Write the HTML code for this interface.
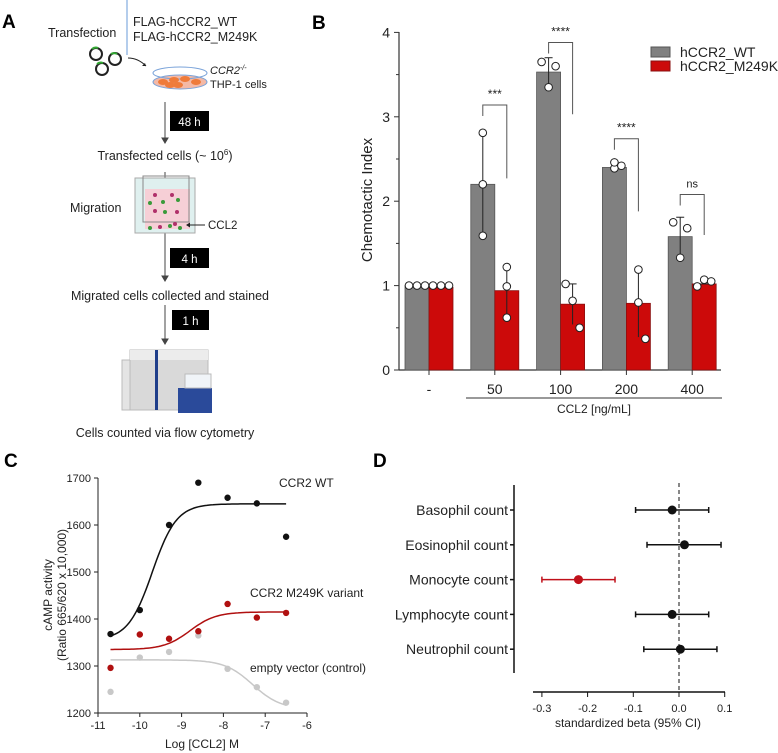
<!DOCTYPE html>
<html><head><meta charset="utf-8"><style>
body{margin:0;background:#fff}
svg{display:block;font-family:"Liberation Sans",Arial,sans-serif}
</style></head><body>
<svg id="fig" width="778" height="753" viewBox="0 0 778 753" xmlns="http://www.w3.org/2000/svg">
<!-- Panel A -->
<g>
<text x="2" y="28" font-size="19" font-weight="bold">A</text>
<text x="48" y="37" font-size="12.5" fill="#222">Transfection</text>
<line x1="127" y1="0" x2="127" y2="55" stroke="#6a9bd8" stroke-width="1"/>
<text x="133" y="26" font-size="12.5" fill="#222">FLAG-hCCR2_WT</text>
<text x="133" y="41" font-size="12.5" fill="#222">FLAG-hCCR2_M249K</text>
<g fill="none" stroke="#222" stroke-width="2">
<circle cx="96" cy="54" r="6"/><circle cx="115" cy="59" r="6"/><circle cx="102" cy="69" r="6"/>
</g>
<path d="M92 49 a6 6 0 0 1 6 -1 M111 54 a6 6 0 0 1 6 0 M97 64 a6 6 0 0 1 6 -1" stroke="#3a3" stroke-width="2" fill="none"/>
<path d="M128 58 Q138 58 146 66" stroke="#222" fill="none"/><path d="M146 66 l-4 0 l3 -3z" fill="#222"/>
<g>
<ellipse cx="180" cy="82" rx="27" ry="7" fill="#f4b9a6" stroke="#7aa3d9"/>
<ellipse cx="180" cy="73" rx="27" ry="6" fill="none" stroke="#7aa3d9"/>
<g fill="#ef7b3a"><ellipse cx="163" cy="82" rx="5" ry="3"/><ellipse cx="174" cy="80" rx="5" ry="3"/><ellipse cx="185" cy="79" rx="5" ry="3"/><ellipse cx="196" cy="82" rx="5" ry="3"/><ellipse cx="178" cy="85" rx="5" ry="3"/><ellipse cx="170" cy="85" rx="5" ry="3"/></g>
</g>
<text x="210" y="74" font-size="11" font-style="italic" fill="#222">CCR2<tspan font-size="7" dy="-4">-/-</tspan></text>
<text x="210" y="88" font-size="11" fill="#222">THP-1 cells</text>
<g stroke="#444" fill="#444">
<line x1="165" y1="102" x2="165" y2="140"/><path d="M162 138 l3 5 l3 -5z"/>
<line x1="165" y1="172" x2="165" y2="186"/><path d="M162 184 l3 5 l3 -5z"/>
<line x1="165" y1="233" x2="165" y2="277"/><path d="M162 276 l3 5 l3 -5z"/>
<line x1="165" y1="305" x2="165" y2="340"/><path d="M162 339 l3 5 l3 -5z"/>
</g>
<rect x="170" y="111" width="39" height="20" fill="#000"/>
<text x="189.5" y="126" font-size="11.5" fill="#fff" text-anchor="middle">48 h</text>
<text x="165" y="160" font-size="12.5" fill="#222" text-anchor="middle">Transfected cells (~ 10<tspan font-size="8" dy="-5">6</tspan><tspan dy="5">)</tspan></text>
<g>
<rect x="135" y="178" width="60" height="55" fill="#dff0ef" stroke="#aaa"/>
<rect x="145" y="189" width="45" height="40" fill="#f6cfd6"/>
<rect x="143" y="176" width="46" height="46" fill="none" stroke="#888"/>
<g fill="#3a9a3a"><circle cx="150" cy="203" r="2"/><circle cx="163" cy="202" r="2"/><circle cx="178" cy="200" r="2"/><circle cx="165" cy="212" r="2"/><circle cx="150" cy="228" r="2"/><circle cx="170" cy="226" r="2"/><circle cx="180" cy="228" r="2"/></g>
<g fill="#b0306a"><circle cx="155" cy="195" r="2"/><circle cx="172" cy="195" r="2"/><circle cx="155" cy="211" r="2"/><circle cx="177" cy="212" r="2"/><circle cx="160" cy="227" r="2"/><circle cx="175" cy="224" r="2"/></g>
</g>
<text x="70" y="212" font-size="12.5" fill="#222">Migration</text>
<line x1="187" y1="225" x2="205" y2="225" stroke="#222"/><path d="M186 225 l4 -2.5 l0 5z" fill="#222"/>
<text x="208" y="229" font-size="11.5" fill="#222">CCL2</text>
<rect x="170" y="248" width="39" height="20" fill="#000"/>
<text x="189.5" y="263" font-size="11.5" fill="#fff" text-anchor="middle">4 h</text>
<text x="170" y="300" font-size="12.5" fill="#222" text-anchor="middle">Migrated cells collected and stained</text>
<rect x="172" y="310" width="37" height="20" fill="#000"/>
<text x="190.5" y="325" font-size="11.5" fill="#fff" text-anchor="middle">1 h</text>
<g>
<rect x="122" y="360" width="10" height="50" fill="#e4e4e4" stroke="#bbb"/>
<rect x="130" y="350" width="78" height="60" fill="#d9d9d9" stroke="#bbb"/>
<rect x="130" y="350" width="78" height="10" fill="#ececec"/>
<rect x="155" y="350" width="3" height="60" fill="#1f3e8a"/>
<rect x="178" y="388" width="34" height="25" fill="#2a4a9a"/>
<rect x="185" y="374" width="26" height="14" fill="#f0f4f8" stroke="#bbb"/>
</g>
<text x="165" y="437" font-size="12.5" fill="#222" text-anchor="middle">Cells counted via flow cytometry</text>
</g>

<text x="312" y="29" font-size="19" font-weight="bold">B</text>
<text x="4" y="467" font-size="19" font-weight="bold">C</text>
<text x="373" y="467" font-size="19" font-weight="bold">D</text>

<g id="panelB"></g>
<g id="panelC"></g>
<g id="panelD"></g>
</svg>
<script>
// ---- Panel B data ----
const bCategories = ["-", "50", "100", "200", "400"];
const bWtMeans = [1.0, 2.2, 3.53, 2.4, 1.58];
const bMutMeans = [0.98, 0.94, 0.78, 0.79, 1.02];
const bWtErrTop = [1.0, 2.81, 3.7, 2.46, 1.81];
const bMutErrTop = [0.98, 1.22, 1.02, 1.19, 1.02];
const bWtPoints = [[1,1,1],[2.81,2.2,1.59],[3.65,3.35,3.6],[2.39,2.46,2.42],[1.75,1.33,1.68]];
const bMutPoints = [[1,1,1],[1.22,0.99,0.62],[1.02,0.82,0.5],[1.19,0.8,0.37],[0.99,1.07,1.05]];
const bSigLabels = ["", "***", "****", "****", "ns"];
const bSigHeights = [0, 3.14, 3.88, 2.74, 2.08];
const bSigRightEnd = [0, 2.27, 3.03, 1.88, 1.6];
const bYTicks = [0, 1, 2, 3, 4];

// ---- Panel C data ----
const cX = [-10.7, -10.0, -9.3, -8.6, -7.9, -7.2, -6.5];
const cWt = [1368, 1419, 1600, 1690, 1658, 1646, 1575];
const cMut = [1296, 1367, 1358, 1374, 1432, 1403, 1413];
const cEmpty = [1245, 1318, 1330, 1365, 1294, 1255, 1222];
const cXTicks = [-11, -10, -9, -8, -7, -6];
const cYTicks = [1200, 1300, 1400, 1500, 1600, 1700];
const cFitWt = [1355, 1645, -9.7, 1.5];
const cFitMut = [1335, 1415, -8.8, 1.4];
const cFitEmpty = [1313, 1208, -7.3, 1.3];

// ---- Panel D data ----
const dTraits = ["Basophil count","Eosinophil count","Monocyte count","Lymphocyte count","Neutrophil count"];
const dBeta = [-0.015, 0.012, -0.22, -0.015, 0.003];
const dLow = [-0.095, -0.07, -0.3, -0.095, -0.077];
const dHigh = [0.065, 0.092, -0.14, 0.065, 0.083];
const dXTicks = [-0.3, -0.2, -0.1, 0.0, 0.1];
const dXTickLabels = ["-0.3","-0.2","-0.1","0.0","0.1"];

const NS = "http://www.w3.org/2000/svg";
function mk(parent, tag, attrs, text){
  const e = document.createElementNS(NS, tag);
  for (const k in attrs) e.setAttribute(k, attrs[k]);
  if (text !== undefined) e.textContent = text;
  parent.appendChild(e); return e;
}

// ===== Panel B =====
(function(){
  const g = document.getElementById("panelB");
  const y = v => 370 - v * 84.4;
  const cx = i => 429 + i * 65.8;
  const bw = 24;
  let ax = mk(g,"line",{x1:399,y1:32,x2:399,y2:370,stroke:"#333","stroke-width":1.2});
   
  mk(g,"line",{x1:399,y1:370,x2:721,y2:370,stroke:"#333","stroke-width":1.2});
  bYTicks.forEach(t=>{
    mk(g,"line",{x1:394,y1:y(t),x2:399,y2:y(t),stroke:"#333"});
    const lb = mk(g,"text",{x:390,y:y(t)+5,"font-size":14,"text-anchor":"end",fill:"#222"}, String(t));
     
    if (t<4) mk(g,"line",{x1:396,y1:y(t+0.5),x2:399,y2:y(t+0.5),stroke:"#333"});
  });
  const yt = mk(g,"text",{x:0,y:0,"font-size":15,"text-anchor":"middle",fill:"#222",transform:"translate(372,200) rotate(-90)"},"Chemotactic Index");
   
  bCategories.forEach((c,i)=>{
    const x0 = cx(i);
    const r1 = mk(g,"rect",{x:x0-bw,y:y(bWtMeans[i]),width:bw,height:y(0)-y(bWtMeans[i]),fill:"#808080",stroke:"#555","stroke-width":0.8});
     
    const r2 = mk(g,"rect",{x:x0,y:y(bMutMeans[i]),width:bw,height:y(0)-y(bMutMeans[i]),fill:"#cc0a0a",stroke:"#8a1010","stroke-width":0.8});
     
    [[x0-bw/2,bWtMeans[i],bWtErrTop[i],bWtPoints[i]],[x0+bw/2,bMutMeans[i],bMutErrTop[i],bMutPoints[i]]].forEach(([xc,m,top,pts])=>{
      const lo = 2*m-top;
      mk(g,"line",{x1:xc,y1:y(top),x2:xc,y2:y(lo),stroke:"#222"});
      mk(g,"line",{x1:xc-4,y1:y(top),x2:xc+4,y2:y(top),stroke:"#222"});
      const offs = [-8,0,8];
      pts.forEach((p,k)=>{
        const ox = i===0 ? offs[k] : (k===0? (i===2||i===4?-7:0) : (k===2 && (i===2||i===3||i===4) ? 7 : 0));
        const pt = mk(g,"circle",{cx:xc+ox,cy:y(p),r:3.8,fill:"#fff",stroke:"#222","stroke-width":1});
         
      });
    });
    const tl = mk(g,"text",{x:x0,y:394,"font-size":14,"text-anchor":"middle",fill:"#222"},c);
     
    mk(g,"line",{x1:x0,y1:370,x2:x0,y2:375,stroke:"#333"});
    if (bSigLabels[i]) {
      const h = y(bSigHeights[i]);
      const xl = x0-bw/2, xr = x0+bw/2;
      mk(g,"path",{d:`M${xl} ${h+11} L${xl} ${h} L${xr} ${h} L${xr} ${y(bSigRightEnd[i])}`,fill:"none",stroke:"#555"});
      const s = mk(g,"text",{x:(xl+xr)/2,y:h-7,"font-size":bSigLabels[i]==="ns"?11:12,"text-anchor":"middle",fill:"#222"},bSigLabels[i]);
       
    }
  });
  mk(g,"line",{x1:466,y1:398,x2:722,y2:398,stroke:"#333"});
  const xt = mk(g,"text",{x:594,y:413,"font-size":12,"text-anchor":"middle",fill:"#222"},"CCL2 [ng/mL]");
   
  const l1 = mk(g,"rect",{x:651,y:47,width:19,height:10,fill:"#808080",stroke:"#555"});
   
  const l2 = mk(g,"rect",{x:651,y:61,width:19,height:10,fill:"#cc0a0a",stroke:"#8a1010"});
   
  const t1 = mk(g,"text",{x:680,y:57,"font-size":14,fill:"#222"},"hCCR2_WT");
   
  const t2 = mk(g,"text",{x:680,y:71,"font-size":14,fill:"#222"},"hCCR2_M249K");
   
})();

// ===== Panel C =====
(function(){
  const g = document.getElementById("panelC");
  const x = v => 98 + (v + 11) * 41.8;
  const y = v => 713 - (v - 1200) * 0.47;
  mk(g,"line",{x1:98,y1:478,x2:98,y2:713,stroke:"#222"});
  mk(g,"line",{x1:98,y1:713,x2:307,y2:713,stroke:"#222"});
  cYTicks.forEach(t=>{
    mk(g,"line",{x1:94,y1:y(t),x2:98,y2:y(t),stroke:"#222"});
    const l = mk(g,"text",{x:91,y:y(t)+4,"font-size":11,"text-anchor":"end",fill:"#222"},String(t));
     
  });
  cXTicks.forEach(t=>{
    mk(g,"line",{x1:x(t),y1:713,x2:x(t),y2:717,stroke:"#222"});
    const l = mk(g,"text",{x:x(t),y:729,"font-size":11,"text-anchor":"middle",fill:"#222"},String(t));
     
  });
  const a = mk(g,"text",{x:0,y:0,"font-size":12,"text-anchor":"middle",fill:"#222",transform:"translate(52,595) rotate(-90)"},"cAMP activity");
   
  const a2 = mk(g,"text",{x:0,y:0,"font-size":12,"text-anchor":"middle",fill:"#222",transform:"translate(66,595) rotate(-90)"},"(Ratio 665/620 x 10,000)");
   
  const xt = mk(g,"text",{x:202,y:748,"font-size":12,"text-anchor":"middle",fill:"#222"},"Log [CCL2] M");
   
  function curve(p, color, name){
    let d = "";
    for (let v = -10.7; v <= -6.5 + 1e-9; v += 0.05) {
      const f = p[0] + (p[1]-p[0]) / (1 + Math.pow(10, (p[2]-v)*p[3]));
      d += (d ? " L" : "M") + x(v).toFixed(1) + " " + y(f).toFixed(1);
    }
    const c = mk(g,"path",{d:d,fill:"none",stroke:color,"stroke-width":1.5});
     
  }
  curve(cFitEmpty,"#c8c8c8","fit-curve-empty");
  curve(cFitMut,"#b01010","fit-curve-m249k");
  curve(cFitWt,"#111","fit-curve-wt");
  [[cEmpty,"#c8c8c8","point-empty"],[cMut,"#b01010","point-m249k"],[cWt,"#111","point-wt"]].forEach(([arr,col,nm])=>{
    arr.forEach((v,i)=>{
      const p = mk(g,"circle",{cx:x(cX[i]),cy:y(v),r:3.2,fill:col});
       
    });
  });
  const s1 = mk(g,"text",{x:279,y:487,"font-size":12,fill:"#222"},"CCR2 WT");
   
  const s2 = mk(g,"text",{x:250,y:597,"font-size":12,fill:"#222"},"CCR2 M249K variant");
   
  const s3 = mk(g,"text",{x:250,y:672,"font-size":12,fill:"#222"},"empty vector (control)");
   
})();

// ===== Panel D =====
(function(){
  const g = document.getElementById("panelD");
  const x = v => 679 + v * 457;
  const y = i => 510 + i * 34.8;
  mk(g,"line",{x1:514,y1:485,x2:514,y2:673,stroke:"#111","stroke-width":1.5});
  mk(g,"line",{x1:533,y1:692,x2:725,y2:692,stroke:"#111","stroke-width":1.5});
  mk(g,"line",{x1:x(0),y1:483,x2:x(0),y2:692,stroke:"#111","stroke-dasharray":"4,3"});
  dXTicks.forEach((t,i)=>{
    mk(g,"line",{x1:x(t),y1:692,x2:x(t),y2:697,stroke:"#111"});
    const l = mk(g,"text",{x:x(t),y:712,"font-size":11,"text-anchor":"middle",fill:"#222"},dXTickLabels[i]);
     
  });
  const xt = mk(g,"text",{x:628,y:727,"font-size":12,"text-anchor":"middle",fill:"#222"},"standardized beta (95% CI)");
   
  dTraits.forEach((t,i)=>{
    const col = i===2 ? "#c0101a" : "#111";
    mk(g,"line",{x1:510,y1:y(i),x2:514,y2:y(i),stroke:"#111","stroke-width":1.5});
    const l = mk(g,"text",{x:508,y:y(i)+5,"font-size":14,"text-anchor":"end",fill:"#222"},t);
     
    const ci = mk(g,"line",{x1:x(dLow[i]),y1:y(i),x2:x(dHigh[i]),y2:y(i),stroke:col,"stroke-width":1.5});
     
    mk(g,"line",{x1:x(dLow[i]),y1:y(i)-3,x2:x(dLow[i]),y2:y(i)+3,stroke:col,"stroke-width":1.5});
    mk(g,"line",{x1:x(dHigh[i]),y1:y(i)-3,x2:x(dHigh[i]),y2:y(i)+3,stroke:col,"stroke-width":1.5});
    const p = mk(g,"circle",{cx:x(dBeta[i]),cy:y(i),r:4.5,fill:col});
     
  });
})();
</script>
</body></html>
